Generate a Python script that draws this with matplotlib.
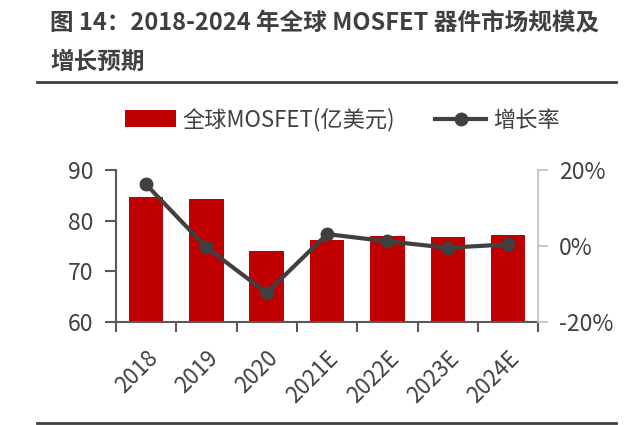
import matplotlib
matplotlib.use('Agg')
import matplotlib.pyplot as plt
from matplotlib.ticker import FuncFormatter

plt.rcParams['font.family'] = ['Noto Sans CJK SC', 'DejaVu Sans']

#data------------------------------------------
years = ['2018', '2019', '2020', '2021E', '2022E', '2023E', '2024E']
market = [84.7, 84.3, 74.0, 76.1, 77.0, 76.7, 77.1]      # 亿美元
growth = [16.2, -0.4, -12.4, 3.1, 1.2, -0.5, 0.4]        # %

title_text = '图 14：2018-2024 年全球 MOSFET 器件市场规模及\n增长预期'
bar_label = '全球MOSFET(亿美元)'
line_label = '增长率'

red = '#C00000'
dark = '#404040'
txt = '#404040'
#-----------------------------

fig = plt.figure(figsize=(6.4, 4.25), dpi=100)
ax = fig.add_axes([0.181, 0.243, 0.660, 0.357])
ax2 = ax.twinx()

x = range(len(years))
ax.bar(x, market, width=0.57, color=red, label=bar_label, zorder=2)
ax2.plot(x, growth, color=dark, lw=3, marker='o', markersize=9, label=line_label, zorder=3)

ax.set_xlim(-0.5, len(years) - 0.5)
ax.set_ylim(60, 90)
ax.set_yticks([60, 70, 80, 90])
ax2.set_ylim(-20, 20)
ax2.set_yticks([-20, 0, 20])
ax2.yaxis.set_major_formatter(FuncFormatter(lambda v, p: '%d%%' % v))

# ticks between categories
ax.set_xticks([i - 0.5 for i in range(len(years) + 1)], minor=False)
ax.set_xticklabels([])
ax.set_xticks(list(x), minor=True)
ax.set_xticklabels(years, minor=True, rotation=45, ha='right', rotation_mode='anchor',
                   fontsize=16, color=txt)
ax.tick_params(axis='x', which='minor', length=0, pad=18)
ax.tick_params(axis='x', which='major', length=7, width=1.5, color='#595959', direction='out')
ax.tick_params(axis='y', length=8, width=1.5, color='#595959', labelsize=16.5, labelcolor=txt, pad=8)
ax2.tick_params(axis='y', length=7, width=1.2, color='#BFBFBF', labelsize=16.5, labelcolor=txt, pad=8)

for s in ['top', 'right']:
    ax.spines[s].set_visible(False)
for s in ['top', 'left', 'bottom']:
    ax2.spines[s].set_visible(False)
ax.spines['left'].set_color('#595959')
ax.spines['left'].set_linewidth(1.5)
ax.spines['bottom'].set_color('#595959')
ax.spines['bottom'].set_linewidth(1.5)
ax2.spines['right'].set_color('#BFBFBF')
ax2.spines['right'].set_linewidth(1.2)

h1, l1 = ax.get_legend_handles_labels()
h2, l2 = ax2.get_legend_handles_labels()
fig.legend(h1 + h2, l1 + l2, loc='center', bbox_to_anchor=(0.535, 0.718), ncol=2,
           frameon=False, fontsize=16, handlelength=2.3, handleheight=0.8,
           columnspacing=1.8, handletextpad=0.3, labelcolor=txt)

fig.text(0.078, 0.972, title_text, fontsize=17, fontweight='bold', color=txt,
         va='top', ha='left', linespacing=1.75)

fig.add_artist(plt.Line2D([0.058, 0.962], [0.807, 0.807], color=dark, lw=2))
fig.add_artist(plt.Line2D([0.058, 0.962], [0.005, 0.005], color=dark, lw=2))

plt.savefig('out.png', dpi=100)
